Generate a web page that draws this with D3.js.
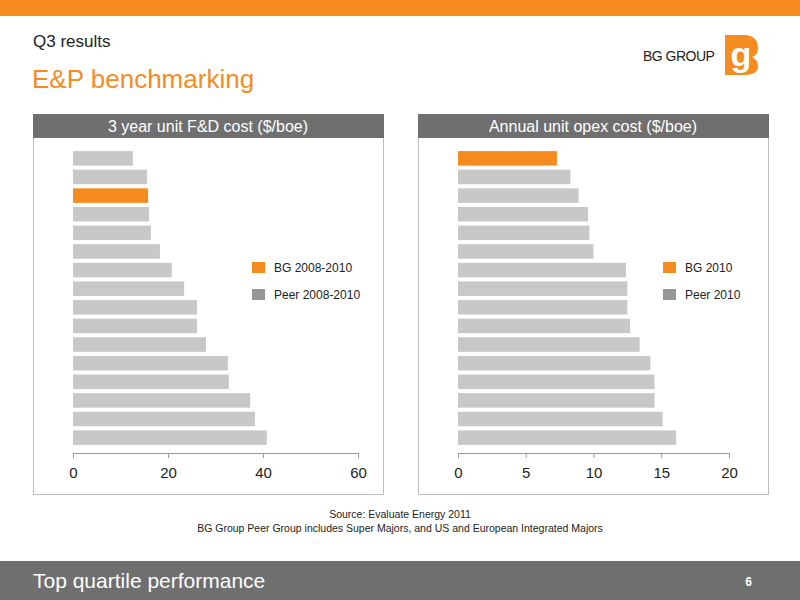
<!DOCTYPE html>
<html><head><meta charset="utf-8">
<script src="https://cdn.jsdelivr.net/npm/d3@7"></script>
<style>body{margin:0}svg{font-family:"Liberation Sans",Arial,sans-serif}</style>
</head><body>
<svg width="800" height="600"></svg>
<script>
const fdValues = [12.6, 15.6, 15.8, 16.0, 16.4, 18.3, 20.8, 23.4, 26.1, 26.1, 28.0, 32.6, 32.8, 37.3, 38.3, 40.8];
const fdBgIndex = 2;
const fdTicks = [0, 20, 40, 60];
const opexValues = [7.3, 8.3, 8.9, 9.6, 9.7, 10.0, 12.4, 12.5, 12.5, 12.7, 13.4, 14.2, 14.5, 14.5, 15.1, 16.1];
const opexBgIndex = 0;
const opexTicks = [0, 5, 10, 15, 20];

const orange = "#f68b1f", grey = "#c8c8c8", dark = "#6f6f6f";
const svg = d3.select("svg");

svg.append("rect").attr("width", 800).attr("height", 16).attr("fill", orange);
svg.append("text").text("Q3 results").attr("x", 33).attr("y", 47).attr("font-size", 17).attr("fill", "#222");
svg.append("text").text("E&P benchmarking").attr("x", 32).attr("y", 88).attr("font-size", 26).attr("fill", orange);
svg.append("text").text("BG GROUP").attr("x", 643).attr("y", 61).attr("font-size", 14).attr("fill", "#222").attr("letter-spacing", -0.5);
svg.append("path").attr("d", "M725,35 H744 Q758,35 758,49 Q758,55 752,57 Q758,60 758,66 Q758,75 744,75 H725 Z").attr("fill", orange);
svg.append("text").text("g").attr("x", 741).attr("y", 66).attr("font-size", 34).attr("font-weight", "bold").attr("fill", "#fff").attr("text-anchor", "middle");

function panel(x0, width, title, values, bgIndex, ticks, legend) {
  const g = svg.append("g");
  g.append("rect").attr("x", x0 + 0.5).attr("y", 114.5).attr("width", 350).attr("height", 380).attr("fill", "#fff").attr("stroke", "#bdbdbd");
  g.append("rect").attr("x", x0).attr("y", 114).attr("width", 351).attr("height", 24).attr("fill", dark);
  g.append("text").text(title).attr("x", x0 + 175).attr("y", 132).attr("text-anchor", "middle").attr("font-size", 16).attr("fill", "#fff");
  const x = d3.scaleLinear().domain([ticks[0], ticks[ticks.length - 1]]).range([x0 + 40, x0 + 40 + width]);
  const y = d3.scaleBand().domain(d3.range(values.length)).range([147, 449]).padding(0.22);
  g.selectAll(".bar").data(values).join("rect")
    .attr("x", x(0)).attr("y", (d, i) => y(i)).attr("width", d => x(d) - x(0)).attr("height", y.bandwidth())
    .attr("fill", (d, i) => i === bgIndex ? orange : grey);
  const ax = g.append("g").attr("transform", "translate(0,453)")
    .call(d3.axisBottom(x).tickValues(ticks).tickSize(5).tickSizeOuter(0));
  ax.select(".domain").attr("stroke", "#999");
  ax.selectAll("line").attr("stroke", "#999");
  ax.selectAll("text").attr("font-size", 15).attr("fill", "#222").attr("font-family", "Liberation Sans, Arial").attr("dy", "1.1em");
  legend.forEach((l, i) => {
    g.append("rect").attr("x", l.x).attr("y", 262 + i * 27).attr("width", 13).attr("height", 11).attr("fill", l.c);
    g.append("text").text(l.t).attr("x", l.x + 22).attr("y", 272 + i * 27).attr("font-size", 12).attr("fill", "#222");
  });
}
panel(33, 285, "3 year unit F&D cost ($/boe)", fdValues, fdBgIndex, fdTicks,
  [{x: 252, c: orange, t: "BG 2008-2010"}, {x: 252, c: "#969696", t: "Peer 2008-2010"}]);
panel(418, 271, "Annual unit opex cost ($/boe)", opexValues, opexBgIndex, opexTicks,
  [{x: 663, c: orange, t: "BG 2010"}, {x: 663, c: "#969696", t: "Peer 2010"}]);

svg.append("text").text("Source: Evaluate Energy 2011").attr("x", 400).attr("y", 518).attr("text-anchor", "middle").attr("font-size", 10.5).attr("fill", "#222");
svg.append("text").text("BG Group Peer Group includes Super Majors, and US and European Integrated Majors").attr("x", 400).attr("y", 532).attr("text-anchor", "middle").attr("font-size", 10.5).attr("fill", "#222");

svg.append("rect").attr("y", 561).attr("width", 800).attr("height", 39).attr("fill", dark);
svg.append("text").text("Top quartile performance").attr("x", 33).attr("y", 588).attr("font-size", 21).attr("fill", "#fff");
svg.append("text").text("6").attr("x", 752).attr("y", 586).attr("font-size", 12).attr("font-weight", "bold").attr("fill", "#fff").attr("text-anchor", "end");
</script>
</body></html>
